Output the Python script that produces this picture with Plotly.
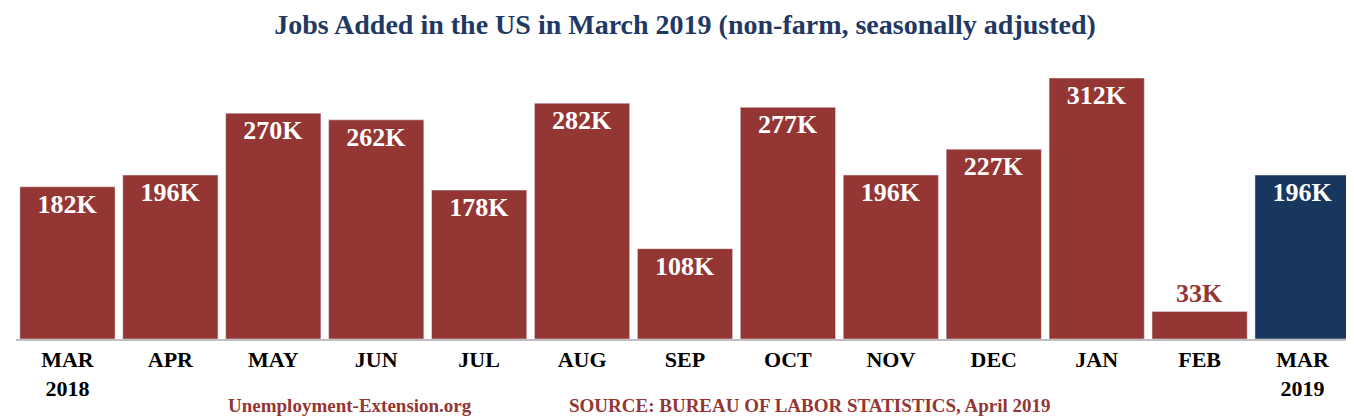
import plotly.graph_objects as go

months = ["MAR<br>2018","APR","MAY","JUN","JUL","AUG","SEP","OCT","NOV","DEC","JAN","FEB","MAR<br>2019"]
jobs = [182,196,270,262,178,282,108,277,196,227,312,33,196]
labels = [f"{v}K" for v in jobs]

red = "#943634"; navy = "#17375E"
colors = [red]*12 + [navy]
positions = ["inside"]*11 + ["outside"] + ["inside"]

fig = go.Figure(go.Bar(
    x=months, y=jobs, text=labels, textposition=positions,
    insidetextanchor="end", marker_color=colors, cliponaxis=False,
    outsidetextfont=dict(family="Liberation Serif", size=26, color=red),
    insidetextfont=dict(family="Liberation Serif", size=26, color="white"),
    texttemplate="<b>%{text}</b>",
))
fig.update_layout(
    width=1354, height=416, margin=dict(l=8, r=8, t=60, b=85, autoexpand=False),
    plot_bgcolor="white", paper_bgcolor="white", bargap=0.075, showlegend=False,
    title=dict(text="<b>Jobs Added in the US in March 2019 (non-farm, seasonally adjusted)</b>",
               x=0.5, y=0.985, xanchor="center", yanchor="top",
               font=dict(family="Liberation Serif", size=28, color="#1F3864")),
    xaxis=dict(tickfont=dict(family="Liberation Serif", size=22, color="black"),
               showline=True, linecolor="#BFBFBF", linewidth=2, ticks="",
               range=[-0.5, 12.5], automargin=False),
    yaxis=dict(range=[0, 324], visible=False),
    font=dict(family="Liberation Serif"),
)
fig.update_xaxes(tickprefix="<b>", ticksuffix="</b>")
fig.add_annotation(text="<b>Unemployment-Extension.org</b>", x=0.157, y=-0.247, xref="paper", yref="paper",
                   xanchor="left", yanchor="middle", showarrow=False,
                   font=dict(family="Liberation Serif", size=19, color=red))
fig.add_annotation(text="<b>SOURCE: BUREAU OF LABOR STATISTICS, April 2019</b>", x=0.412, y=-0.247,
                   xref="paper", yref="paper", xanchor="left", yanchor="middle", showarrow=False,
                   font=dict(family="Liberation Serif", size=19, color=red))
fig.write_html("out.html")
